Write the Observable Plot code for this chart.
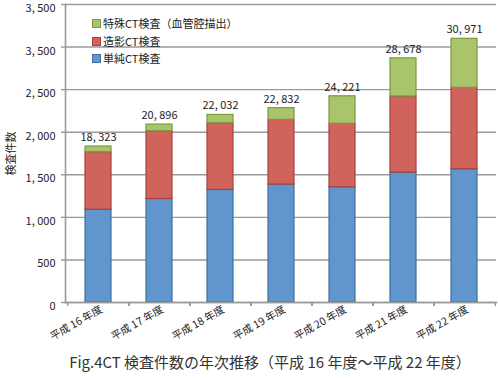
<!DOCTYPE html>
<html><head><meta charset="utf-8">
<script src="https://cdn.jsdelivr.net/npm/d3@7"></script>
<script src="https://cdn.jsdelivr.net/npm/@observablehq/plot@0.6"></script>
<style>
body{margin:0;background:#fff;font-family:"Noto Sans CJK JP",sans-serif;}
#wrap{position:relative;width:498px;height:378px;overflow:hidden;}
#legend{position:absolute;left:92px;top:15px;font-size:11px;color:#222;line-height:17.5px;}
#legend .row{display:flex;align-items:center;}
#legend .sw{width:7px;height:7px;margin-right:2px;border:1px solid;}
#caption{position:absolute;left:0;width:540px;top:351px;text-align:center;font-size:15px;color:#333;white-space:nowrap;}
</style></head>
<body><div id="wrap"><div id="chart"></div><div id="legend"></div><div id="caption"></div></div>
<script>
const years = ["平成 16 年度","平成 17 年度","平成 18 年度","平成 19 年度","平成 20 年度","平成 21 年度","平成 22 年度"];
const seriesNames = ["単純CT検査","造影CT検査","特殊CT検査（血管腔描出）"];
const simpleCT = [1090,1216,1322,1385,1353,1526,1565];
const contrastCT = [675,796,784,761,746,894,957];
const specialCT = [67,78,97,137,323,448,575];
const totalLabels = ["18, 323","20, 896","22, 032","22, 832","24, 221","28, 678","30, 971"];
const yTicks = [0,500,1000,1500,2000,2500,3000,3500];
const yTickLabels = ["0","500","1, 000","1, 500","2, 000","2, 500","3, 500","3, 500"];
const captionText = "Fig.4CT 検査件数の年次推移（平成 16 年度～平成 22 年度）";
const yTitle = "検査件数";

const fills = ["#6096cd","#d0645d","#a9c46a"];
const strokes = ["#3f6f9e","#a8413c","#7c9a3e"];

const seriesValues = [simpleCT, contrastCT, specialCT];
const rows = [];
seriesValues.forEach((vals, s) => years.forEach((y, i) => rows.push({year: y, series: seriesNames[s], value: vals[i], fill: fills[s], stroke: strokes[s]})));
const totals = years.map((y, i) => ({year: y, total: simpleCT[i] + contrastCT[i] + specialCT[i], label: totalLabels[i]}));

const chart = Plot.plot({
  width: 498, height: 345,
  marginLeft: 65, marginRight: 2, marginTop: 4, marginBottom: 43,
  style: {fontFamily: '"Noto Sans CJK JP", sans-serif', fontSize: "11px", color: "#222", background: "#fff"},
  x: {domain: years, paddingInner: 0.58, paddingOuter: 0.29},
  y: {domain: [0, 3500]},
  marks: [
    Plot.gridY(yTicks, {stroke: "#9a9a9a", strokeOpacity: 1, strokeWidth: 1.4}),
    Plot.frame({anchor: "left", stroke: "#9a9a9a", strokeWidth: 1.6}),
    Plot.axisY({ticks: yTicks, tickSize: 4, text: null, stroke: "#9a9a9a", strokeWidth: 1.4, label: null}),
    Plot.axisY({ticks: yTicks, tickFormat: (d, i) => yTickLabels[i], tickSize: 0, tickPadding: 10, dy: 4,
      label: yTitle, labelAnchor: "center", labelArrow: "none", labelOffset: 58, fontSize: 11}),
    Plot.barY(rows, {x: "year", y: "value", fill: "fill", stroke: "stroke", strokeWidth: 1.2, order: null}),
    Plot.frame({anchor: "bottom", stroke: "#9a9a9a", strokeWidth: 1.6}),
    Plot.axisX({tickSize: 4, text: null, dx: -30.8, stroke: "#9a9a9a", strokeWidth: 1.4, label: null}),
    Plot.axisX({tickSize: 4, text: null, dx: 30.8, stroke: "#9a9a9a", strokeWidth: 1.4, label: null}),
    Plot.axisX({tickSize: 0, tickRotate: -30, tickPadding: 6, dx: 3, fontSize: 10.5, label: null}),
    Plot.text(totals, {x: "year", y: "total", text: "label", dy: -9, fontSize: 11, fill: "#222"})
  ]
});
document.getElementById("chart").appendChild(chart);

const legend = document.getElementById("legend");
[2,1,0].forEach(s => {
  const r = document.createElement("div"); r.className = "row";
  const sw = document.createElement("span"); sw.className = "sw"; sw.style.background = fills[s]; sw.style.borderColor = strokes[s];
  const t = document.createElement("span"); t.textContent = seriesNames[s];
  r.appendChild(sw); r.appendChild(t); legend.appendChild(r);
});
document.getElementById("caption").textContent = captionText;
</script></body></html>
